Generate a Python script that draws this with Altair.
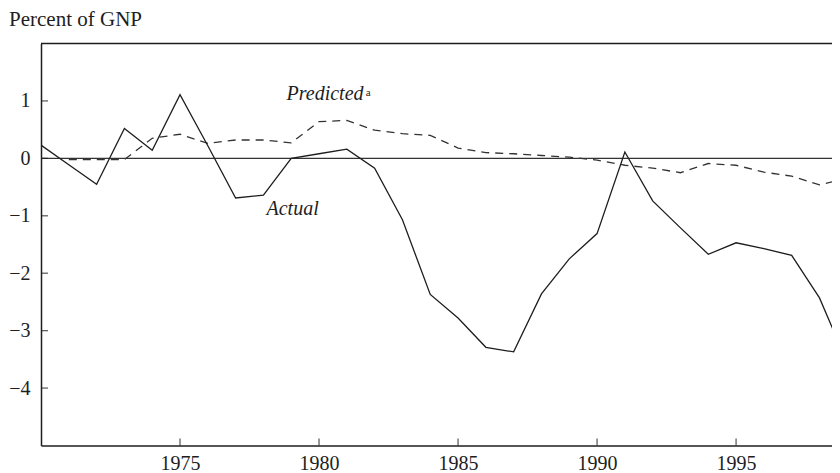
import altair as alt
import pandas as pd

# ---- data ----
years_actual = list(range(1970, 2000))
actual = [0.23, -0.11, -0.45, 0.52, 0.14, 1.11, 0.22, -0.69, -0.64, 0.00,
          0.08, 0.16, -0.17, -1.07, -2.37, -2.78, -3.29, -3.37, -2.36, -1.75,
          -1.31, 0.11, -0.74, -1.21, -1.67, -1.47, -1.57, -1.69, -2.43, -3.56]

years_pred = list(range(1971, 2000))
predicted = [-0.02, -0.02, -0.02, 0.35, 0.42, 0.26, 0.32, 0.32, 0.27, 0.64,
             0.66, 0.49, 0.43, 0.40, 0.18, 0.10, 0.08, 0.05, 0.02, -0.03,
             -0.12, -0.17, -0.25, -0.09, -0.12, -0.24, -0.31, -0.46, -0.35]

x_ticks = [1975, 1980, 1985, 1990, 1995]
y_ticks = [-4, -3, -2, -1, 0, 1]

x_domain = [1970, 1998.45]
y_domain = [-5, 2]

label_pred = {"text": "Predicted", "x": 1978.83, "y": 1.01}
label_sup = {"text": "a", "x": 1981.68, "y": 1.09}
label_act = {"text": "Actual", "x": 1978.11, "y": -0.98}

# ---- style ----
W, H = 791, 402
FONT = "Liberation Serif, Times New Roman, serif"
INK = "#1e1e1e"

df_a = pd.DataFrame({"year": years_actual, "value": actual})
df_p = pd.DataFrame({"year": years_pred, "value": predicted})

xs = alt.Scale(domain=x_domain, nice=False, zero=False)
ys = alt.Scale(domain=y_domain, nice=False, zero=False)

x_axis = alt.Axis(values=x_ticks, format="d", ticks=False, tickSize=0,
                  labelFont=FONT, labelFontSize=20, labelColor=INK,
                  labelPadding=8, domainColor=INK, domainWidth=1.5,
                  grid=False, title=None, labelFlush=False)
y_axis = alt.Axis(values=y_ticks, format="d", ticks=False, tickSize=0,
                  labelFont=FONT, labelFontSize=20, labelColor=INK,
                  labelPadding=11, domainColor=INK, domainWidth=1.5,
                  grid=False, title=None, labelFlush=False)

actual_line = alt.Chart(df_a).mark_line(
    color=INK, strokeWidth=1.3, clip=True
).encode(
    x=alt.X("year:Q", scale=xs, axis=x_axis),
    y=alt.Y("value:Q", scale=ys, axis=y_axis),
)

pred_line = alt.Chart(df_p).mark_line(
    color="#333333", strokeWidth=1.3, strokeDash=[8, 6], clip=True
).encode(x="year:Q", y="value:Q")

zero_rule = alt.Chart(pd.DataFrame({"v": [0]})).mark_rule(
    color="#333333", strokeWidth=1.2
).encode(y="v:Q")

top_rule = alt.Chart(pd.DataFrame({"v": [0]})).mark_rule(
    color=INK, strokeWidth=1.4
).encode(x=alt.value(0), x2=alt.value(W), y=alt.value(0))

x_tick_marks = alt.Chart(pd.DataFrame({"year": x_ticks})).mark_tick(
    orient="vertical", size=7, thickness=1.3, color=INK
).encode(x="year:Q", y=alt.value(H - 3.5))

y_tick_marks = alt.Chart(pd.DataFrame({"v": y_ticks})).mark_tick(
    orient="horizontal", size=7, thickness=1.3, color=INK
).encode(y="v:Q", x=alt.value(3.5))

def label(d, size, style="italic"):
    return alt.Chart(pd.DataFrame([d])).mark_text(
        font=FONT, fontSize=size, fontStyle=style, color=INK,
        align="left", baseline="alphabetic"
    ).encode(x="x:Q", y="y:Q", text="text:N")

pred_text = label(label_pred, 20)
sup_text = label(label_sup, 11, "normal")
act_text = label(label_act, 20)

title_text = alt.Chart(pd.DataFrame({"t": ["Percent of GNP"]})).mark_text(
    font=FONT, fontSize=21, color=INK, align="left", baseline="alphabetic"
).encode(x=alt.value(-32), y=alt.value(-17.5), text="t:N")

chart = alt.layer(
    zero_rule, top_rule, pred_line, actual_line,
    x_tick_marks, y_tick_marks, pred_text, sup_text, act_text, title_text
).properties(
    width=W, height=H,
    autosize=alt.AutoSizeParams(type="none"),
    padding={"left": 33, "top": 35.5, "right": 0, "bottom": 27},
).configure_view(strokeWidth=0)

chart.save("out.html", embed_options={"renderer": "svg", "actions": False})
